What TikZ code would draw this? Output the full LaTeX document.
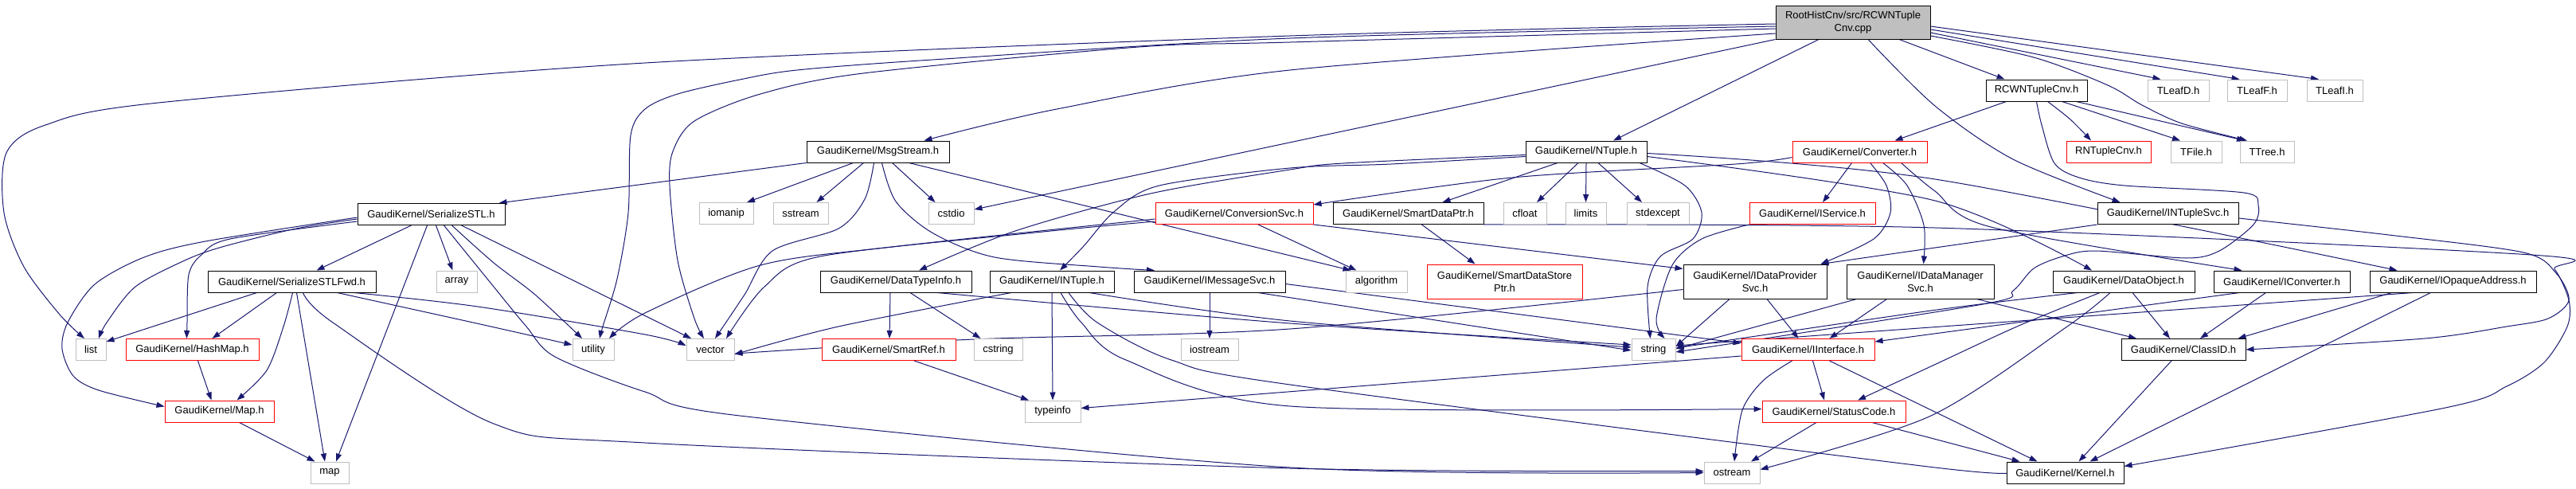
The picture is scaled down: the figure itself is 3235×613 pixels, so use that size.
\documentclass[tikz,border=0pt]{standalone}
\usepackage{fontspec}
\setmainfont{Liberation Sans}
\usetikzlibrary{arrows.meta}
\definecolor{edgec}{HTML}{191970}
\definecolor{sysgray}{HTML}{BFBFBF}
\definecolor{rootfill}{HTML}{BFBFBF}
\newcommand{\nfont}{\fontsize{13}{16}\selectfont}
\pgfdeclarelayer{bg}
\pgfsetlayers{bg,main}
\begin{document}
\begin{tikzpicture}[x=1pt,y=-1pt,
  box/.style={draw=black, fill=white, line width=1pt, inner sep=0pt, align=center, font=\nfont, minimum height=27pt},
  sys/.style={box, draw=sysgray},
  trunc/.style={box, draw=red},
  lnk/.style={draw=edgec, line width=1pt, -{Triangle[length=10pt,width=7pt]}},
  sm/.style={smooth, tension=0.5}]
\useasboundingbox (0,0) rectangle (3235,613);
% nodes
\node[box, fill=rootfill, minimum width=194pt, minimum height=42pt] (root) at (2327,28) {RootHistCnv/src/RCWNTuple\\Cnv.cpp};
\node[box, minimum width=127pt] (rcwn) at (2557.5,113.5) {RCWNTupleCnv.h};
\node[sys, minimum width=77pt] (tleafd) at (2735.5,113.5) {TLeafD.h};
\node[sys, minimum width=75pt] (tleaff) at (2834.5,113.5) {TLeafF.h};
\node[sys, minimum width=70pt] (tleafi) at (2932,113.5) {TLeafI.h};
\node[trunc, minimum width=106pt] (rntuple) at (2648,190.5) {RNTupleCnv.h};
\node[sys, minimum width=64pt] (tfile) at (2758,190.5) {TFile.h};
\node[sys, minimum width=68pt] (ttree) at (2847,190.5) {TTree.h};
\node[box, minimum width=179pt] (msg) at (1102.5,190.5) {GaudiKernel/MsgStream.h};
\node[box, minimum width=152pt] (ntuple) at (1992,190.5) {GaudiKernel/NTuple.h};
\node[trunc, minimum width=169pt] (conv) at (2335.5,190.5) {GaudiKernel/Converter.h};
\node[box, minimum width=185pt] (sstl) at (541.5,269) {GaudiKernel/SerializeSTL.h};
\node[sys, minimum width=68pt] (iomanip) at (912,268) {iomanip};
\node[sys, minimum width=69pt] (sstream) at (1005.5,268) {sstream};
\node[sys, minimum width=57pt] (cstdio) at (1194.5,268) {cstdio};
\node[trunc, minimum width=198pt] (convsvc) at (1550,268) {GaudiKernel/ConversionSvc.h};
\node[box, minimum width=189pt] (sdp) at (1768.5,268) {GaudiKernel/SmartDataPtr.h};
\node[sys, minimum width=54pt] (cfloat) at (1915,268) {cfloat};
\node[sys, minimum width=51pt] (limits) at (1991.5,268) {limits};
\node[sys, minimum width=78pt] (stdexcept) at (2082,268) {stdexcept};
\node[trunc, minimum width=158pt] (isvc) at (2276,268) {GaudiKernel/IService.h};
\node[box, minimum width=177pt] (ntsvc) at (2722.5,268) {GaudiKernel/INTupleSvc.h};
\node[box, minimum width=211pt] (fwd) at (366.5,353.5) {GaudiKernel/SerializeSTLFwd.h};
\node[sys, minimum width=51pt] (array) at (573.5,353.5) {array};
\node[box, minimum width=190pt] (dti) at (1125,353.5) {GaudiKernel/DataTypeInfo.h};
\node[box, minimum width=156pt] (intuple) at (1321,353.5) {GaudiKernel/INTuple.h};
\node[box, minimum width=190pt] (imsg) at (1519,353.5) {GaudiKernel/IMessageSvc.h};
\node[sys, minimum width=77pt] (algorithm) at (1728.5,353.5) {algorithm};
\node[trunc, minimum width=195pt, minimum height=43pt] (sdsp) at (1889.5,353.5) {GaudiKernel/SmartDataStore\\Ptr.h};
\node[box, minimum width=180pt, minimum height=43pt] (idp) at (2204,353.5) {GaudiKernel/IDataProvider\\Svc.h};
\node[box, minimum width=185pt, minimum height=43pt] (idm) at (2411.5,353.5) {GaudiKernel/IDataManager\\Svc.h};
\node[box, minimum width=178pt] (dobj) at (2667,353.5) {GaudiKernel/DataObject.h};
\node[box, minimum width=171pt] (iconv) at (2865.5,353.5) {GaudiKernel/IConverter.h};
\node[box, minimum width=209pt] (iopaq) at (3080.5,353.5) {GaudiKernel/IOpaqueAddress.h};
\node[sys, minimum width=38pt] (list) at (114,439) {list};
\node[trunc, minimum width=167pt] (hashmap) at (241.5,439) {GaudiKernel/HashMap.h};
\node[sys, minimum width=52pt] (utility) at (745,439) {utility};
\node[sys, minimum width=60pt] (vector) at (892,439) {vector};
\node[trunc, minimum width=168pt] (sref) at (1116,439) {GaudiKernel/SmartRef.h};
\node[sys, minimum width=61pt] (cstring) at (1253.5,439) {cstring};
\node[sys, minimum width=72pt] (iostream) at (1519,439) {iostream};
\node[sys, minimum width=55pt] (string) at (2076.5,439) {string};
\node[trunc, minimum width=167pt] (iif) at (2270.5,439) {GaudiKernel/IInterface.h};
\node[box, minimum width=156pt] (classid) at (2742,439) {GaudiKernel/ClassID.h};
\node[trunc, minimum width=137pt] (mapH) at (275.5,516.5) {GaudiKernel/Map.h};
\node[sys, minimum width=70pt] (typeinfo) at (1322,516.5) {typeinfo};
\node[trunc, minimum width=180pt] (status) at (2303,516.5) {GaudiKernel/StatusCode.h};
\node[sys, minimum width=48pt] (map) at (414,593.5) {map};
\node[sys, minimum width=70pt] (ostream) at (2175,593.5) {ostream};
\node[box, minimum width=147pt] (kernel) at (2593.5,593.5) {GaudiKernel/Kernel.h};
\begin{pgfonlayer}{bg}
% root
\draw[lnk] plot[sm] coordinates {([yshift=-2pt]root.west) (1620,45) (810,79) (199,129) (57,157) (8,192) (5,267) (30,335) (75,395) ([xshift=-8pt]list.north)};
\draw[lnk] plot[sm] coordinates {([yshift=-5pt]root.west) (1620,48) (1171,75) (1001,88) (929,100) (851,118) (810,137) (792,170) (789,267) (775,350) (757,410) ([xshift=8pt]utility.north)};
\draw[lnk] plot[sm] coordinates {([yshift=-8pt]root.west) (1620,53) (1430,59) (1084,92) (955,118) (872,152) (845,190) (841,233) (851,327) (872,400) ([xshift=-8pt]vector.north)};
\draw[lnk] plot[sm] coordinates {([yshift=-14pt]root.west) (1620,88) (1327,137) ([xshift=58pt]msg.north)};
\draw[lnk] (root.south west) -- ([yshift=5pt]cstdio.east);
\draw[lnk] ([xshift=-43pt]root.south) -- ([xshift=34pt]ntuple.north);
\draw[lnk] ([xshift=58pt]root.south) -- ([xshift=-40pt]rcwn.north);
\draw[lnk] plot[sm] coordinates {([xshift=19pt]root.south) (2430,133) (2528,200) ([xshift=-60pt]ntsvc.north)};
\draw[lnk] ([yshift=-13pt]root.east) -- ([xshift=-22pt]tleafd.north);
\draw[lnk] ([yshift=-9pt]root.east) -- ([xshift=-22pt]tleaff.north);
\draw[lnk] ([yshift=-5pt]root.east) -- ([xshift=-20pt]tleafi.north);
\draw[lnk] plot[sm] coordinates {([yshift=-17pt]root.east) (2554,72) (2647,107) (2690,132) (2740,155) ([xshift=-25pt]ttree.north)};
% rcwn
\draw[lnk] ([xshift=-38pt]rcwn.south) -- ([xshift=44pt]conv.north);
\draw[lnk] plot[sm] coordinates {([xshift=14pt]rcwn.south) (2600,150) ([xshift=-22pt]rntuple.north)};
\draw[lnk] ([xshift=32pt]rcwn.south) -- ([xshift=-20pt]tfile.north);
\draw[lnk] ([xshift=50pt]rcwn.south) -- ([xshift=-28pt]ttree.north);
\draw[lnk] plot[sm] coordinates {(rcwn.south) (2564,157) (2580,205) (2611,223) (2668,233) (2818,242) (2836,258) (2830,282) (2787,315) (2745,324) (2632,315) (2590,322) (2554,337) (2528,365) (2490,382) ([yshift=-3pt]string.east)};
% msgstream
\draw[lnk] (msg.south west) -- ([xshift=-8pt]sstl.north east);
\draw[lnk] ([xshift=-31pt]msg.south) -- ([xshift=26pt]iomanip.north);
\draw[lnk] ([xshift=-18pt]msg.south) -- ([xshift=20pt]sstream.north);
\draw[lnk] ([xshift=18pt]msg.south) -- ([xshift=-20pt]cstdio.north);
\draw[lnk] plot[sm] coordinates {([xshift=-5pt]msg.south) (1086,250) (1053,287) (970,315) (935,370) ([xshift=6pt]vector.north)};
\draw[lnk] plot[sm] coordinates {([xshift=5pt]msg.south) (1125,253) (1172,293) (1249,323) (1380,335) ([xshift=-69pt]imsg.north)};
\draw[lnk] ([xshift=39pt]msg.south) -- ([xshift=-32pt]algorithm.north);
% serializestl
\draw[lnk] ([xshift=-25pt]sstl.south) -- ([xshift=31pt]fwd.north);
\draw[lnk] ([xshift=6pt]sstl.south) -- ([xshift=-5pt]array.north);
\draw[lnk] plot[sm] coordinates {([yshift=-6pt]sstl.west) (372,287) (279,310) (232,327) (170,360) (134,405) ([xshift=10pt]list.north)};
\draw[lnk] plot[sm] coordinates {([yshift=-4pt]sstl.west) (258,303) (181,323) (119,357) (85,405) (78,438) (92,472) (124,490) ([yshift=6pt]mapH.west)};
\draw[lnk] plot[sm] coordinates {([yshift=-9pt]sstl.west) (289,300) (253,320) (237,345) (235,405) ([xshift=-7pt]hashmap.north)};
\draw[lnk] ([xshift=-5pt]sstl.south) -- ([xshift=8pt]map.north);
\draw[lnk] plot[sm] coordinates {([xshift=26pt]sstl.south) (620,330) (672,370) ([xshift=-14pt]utility.north)};
\draw[lnk] ([xshift=38pt]sstl.south) -- ([xshift=-24pt]vector.north);
\draw[lnk] plot[sm] coordinates {([xshift=16pt]sstl.south) (620,360) (661,410) (697,448) (810,492) (929,522) (1620,587) (ostream.west)};
% fwd
\draw[lnk] ([xshift=-44pt]fwd.south) -- ([yshift=-4pt]list.north east);
\draw[lnk] ([xshift=-19pt]fwd.south) -- ([xshift=25pt]hashmap.north);
\draw[lnk] plot[sm] coordinates {([xshift=1pt]fwd.south) (356,410) (335,465) ([xshift=22pt]mapH.north)};
\draw[lnk] ([xshift=6pt]fwd.south) -- ([xshift=-6pt]map.north);
\draw[lnk] plot[sm] coordinates {([xshift=14pt]fwd.south) (418,405) (620,532) (810,556) (1620,588) ([yshift=2pt]ostream.west)};
\draw[lnk] plot[sm] coordinates {([xshift=57pt]fwd.south) (594,405) ([yshift=6pt]utility.west)};
\draw[lnk] plot[sm] coordinates {([xshift=78pt]fwd.south) (600,385) (810,420) ([yshift=5pt]vector.west)};
\draw[lnk] ([xshift=7pt]hashmap.south) -- ([xshift=-10pt]mapH.north);
\draw[lnk] ([xshift=25pt]mapH.south) -- ([xshift=6pt]map.north west);
% ntuple
\draw[lnk] plot[sm] coordinates {([yshift=-4pt]ntuple.west) (1687,205) (1620,213) (1445,243) (1275,290) ([xshift=29pt]dti.north)};
\draw[lnk] plot[sm] coordinates {([yshift=-6pt]ntuple.west) (1747,206) (1620,211) (1456,233) (1400,265) (1360,310) ([xshift=10pt]intuple.north)};
\draw[lnk] ([xshift=-36pt]ntuple.south) -- ([xshift=43pt]sdp.north);
\draw[lnk] ([xshift=-10pt]ntuple.south) -- ([xshift=15pt]cfloat.north);
\draw[lnk] (ntuple.south) -- (limits.north);
\draw[lnk] ([xshift=15pt]ntuple.south) -- ([xshift=-20pt]stdexcept.north);
\draw[lnk] plot[sm] coordinates {([xshift=67pt]ntuple.south) (2116,233) (2137,267) (2126,300) (2085,322) (2069,360) ([xshift=-4pt]string.north)};
\draw[lnk] plot[sm] coordinates {([yshift=-6pt]ntuple.east) (2430,252) ([xshift=-40pt]dobj.north)};
\draw[lnk] plot[sm] coordinates {([yshift=-2pt]ntuple.east) (2430,225) ([xshift=-70pt]iopaq.north)};
% converter
\draw[lnk] plot[sm] coordinates {([yshift=-7pt]conv.west) (2180,206) (1899,223) ([yshift=-3pt]convsvc.north east)};
\draw[lnk] ([xshift=-10pt]conv.south) -- ([xshift=13pt]isvc.north);
\draw[lnk] plot[sm] coordinates {([xshift=13pt]conv.south) (2369,233) (2374,267) (2353,300) ([xshift=-8pt]idp.north east)};
\draw[lnk] plot[sm] coordinates {([xshift=29pt]conv.south) (2395,233) (2416,283) ([xshift=4pt]idm.north)};
\draw[lnk] plot[sm] coordinates {([xshift=52pt]conv.south) (2430,240) (2500,285) ([xshift=-50pt]iconv.north)};
% conversionsvc
\draw[lnk] ([xshift=30pt]convsvc.south) -- ([xshift=-25pt]algorithm.north);
\draw[lnk] (convsvc.south east) -- ([yshift=-6pt]idp.north west);
\draw[lnk] plot[sm] coordinates {([yshift=-7pt]convsvc.west) (1120,310) (955,333) (810,393) ([xshift=20pt]utility.north)};
\draw[lnk] plot[sm] coordinates {([yshift=-10pt]convsvc.west) (1300,292) (1030,322) (960,360) ([xshift=20pt]vector.north)};
% smartdataptr
\draw[lnk] ([xshift=17pt]sdp.south) -- ([xshift=-37pt]sdsp.north);
\draw[lnk] plot[sm] coordinates {(sdp.south east) (2430,286) (3179,320) (3208,338) (3226,377) (3224,410) (3195,455) (3148,485) (3071,512) ([yshift=8pt]kernel.east)};
% iservice
\draw[lnk] plot[sm] coordinates {(isvc.south west) (2137,300) (2100,333) (2080,400) ([xshift=14pt]string.north)};
% idataprovider
\draw[lnk] ([xshift=15pt]idp.south) -- ([xshift=-12pt]iif.north);
\draw[lnk] ([xshift=-32pt]idp.south) -- ([yshift=4pt]string.east);
\draw[lnk] plot[sm] coordinates {([yshift=-10pt]idp.west) (1620,413) (1223,426) ([yshift=-5pt]vector.east)};
% idatamanager
\draw[lnk] ([xshift=-42pt]idm.south) -- ([xshift=27pt]iif.north);
\draw[lnk] ([xshift=-80pt]idm.south) -- ([yshift=1pt]string.east);
\draw[lnk] ([xshift=-22pt]idm.south east) -- ([xshift=-59pt]classid.north);
% intuplesvc
\draw[lnk] (ntsvc.south west) -- ([xshift=-8pt]idp.north east);
\draw[lnk] plot[sm] coordinates {([yshift=-6pt]ntsvc.east) (3000,295) (3169,317) (3210,343) (3226,377) (3200,400) (3148,410) (3045,425) (classid.east)};
% datatypeinfo
\draw[lnk] ([xshift=-7pt]dti.south) -- ([xshift=1pt]sref.north);
\draw[lnk] ([xshift=18pt]dti.south) -- ([xshift=-22pt]cstring.north);
\draw[lnk] plot[sm] coordinates {([xshift=52pt]dti.south) (1620,406) ([yshift=6pt]string.west)};
% intuple
\draw[lnk] plot[sm] coordinates {([xshift=-51pt]intuple.south) (1053,410) ([yshift=-6pt]vector.east)};
\draw[lnk] (intuple.south) -- (typeinfo.north);
\draw[lnk] plot[sm] coordinates {([xshift=11pt]intuple.south) (1358,405) (1414,452) (1620,510) ([yshift=3pt]status.west)};
\draw[lnk] plot[sm] coordinates {([xshift=21pt]intuple.south) (1378,405) (1471,452) (1620,483) (2430,587) ([yshift=4pt]kernel.west)};
\draw[lnk] plot[sm] coordinates {([xshift=47pt]intuple.south) (1620,403) ([yshift=3pt]string.west)};
% imessagesvc
\draw[lnk] (imsg.south) -- (iostream.north);
\draw[lnk] ([xshift=61pt]imsg.south) -- ([yshift=-1pt]string.west);
\draw[lnk] ([yshift=-3pt]imsg.east) -- ([yshift=8pt]iif.west);
% smartref
\draw[lnk] ([xshift=32pt]sref.south) -- ([xshift=-30pt]typeinfo.north);
% iinterface
\draw[lnk] ([yshift=-8pt]iif.west) -- ([yshift=4pt]typeinfo.east);
\draw[lnk] plot[sm] coordinates {([xshift=-20pt]iif.south) (2214,478) (2188,515) ([xshift=3pt]ostream.north)};
\draw[lnk] ([xshift=6pt]iif.south) -- ([xshift=-12pt]status.north);
\draw[lnk] ([xshift=27pt]iif.south) -- ([xshift=-35pt]kernel.north);
% statuscode
\draw[lnk] ([xshift=-22pt]status.south) -- ([xshift=24pt]ostream.north);
\draw[lnk] ([xshift=48pt]status.south) -- ([xshift=-57pt]kernel.north);
% classid
\draw[lnk] ([xshift=-15pt]classid.south) -- ([xshift=17pt]kernel.north);
% dataobject
\draw[lnk] ([xshift=11pt]dobj.south) -- ([xshift=-17pt]classid.north);
\draw[lnk] plot[sm] coordinates {([xshift=-30pt]dobj.south) (2533,410) (2425,460) ([xshift=30pt]status.north)};
\draw[lnk] plot[sm] coordinates {([xshift=-17pt]dobj.south) (2596,410) (2425,522) ([yshift=4pt]ostream.east)};
\draw[lnk] plot[sm] coordinates {([xshift=-58pt]dobj.south) (2425,390) ([yshift=2pt]string.east)};
% iconverter
\draw[lnk] ([xshift=-53pt]iconv.south) -- ([yshift=10pt]iif.east);
\draw[lnk] ([xshift=-20pt]iconv.south) -- ([xshift=21pt]classid.north);
% iopaqueaddress
\draw[lnk] ([xshift=-77pt]iopaq.south) -- ([xshift=-10pt]classid.north east);
\draw[lnk] ([xshift=-28pt]iopaq.south) -- ([xshift=31pt]kernel.north);
\draw[lnk] ([xshift=-50pt]iopaq.south) -- ([yshift=5pt]string.east);
\end{pgfonlayer}
\end{tikzpicture}
\end{document}
